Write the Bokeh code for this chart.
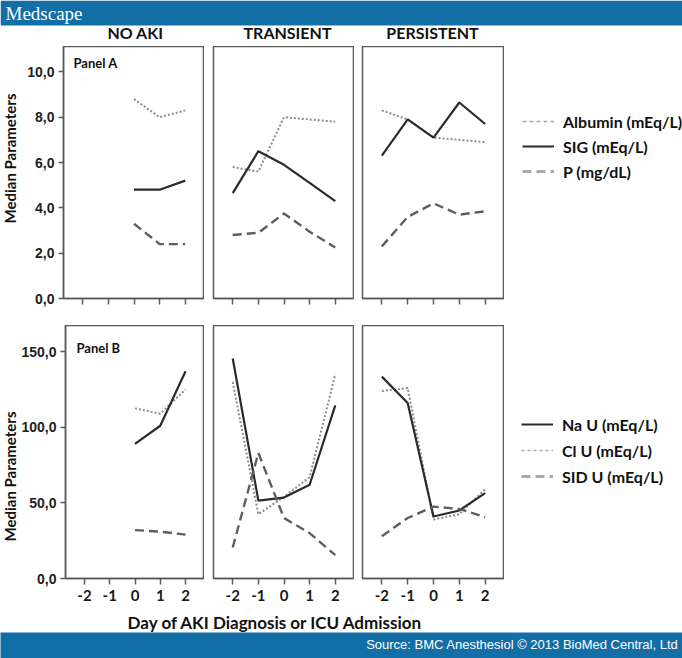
import math

import numpy as np
from bokeh.embed import file_html
from bokeh.layouts import column, row
from bokeh.models import BoxAnnotation, FixedTicker, Label, Legend, LegendItem, Range1d
from bokeh.plotting import figure
from bokeh.resources import INLINE

# ---------------- data ----------------
groups = ["NO AKI", "TRANSIENT", "PERSISTENT"]
days_all = [-2, -1, 0, 1, 2]
days_no_aki = [0, 1, 2]
x_ticks = [-2, -1, 0, 1, 2]
x_tick_labels = ["-2", "-1", "0", "1", "2"]

# Panel A: serum parameters
albumin_no_aki = [8.8, 8.0, 8.3]
albumin_transient = [5.8, 5.6, 8.0, 7.9, 7.8]
albumin_persistent = [8.3, 7.9, 7.1, 7.0, 6.9]
sig_no_aki = [4.8, 4.8, 5.2]
sig_transient = [4.65, 6.5, 5.9, 5.1, 4.3]
sig_persistent = [6.3, 7.9, 7.1, 8.65, 7.7]
p_no_aki = [3.3, 2.4, 2.4]
p_transient = [2.8, 2.9, 3.75, 2.95, 2.25]
p_persistent = [2.3, 3.6, 4.2, 3.7, 3.85]
y_ticks_a = [0, 2, 4, 6, 8, 10]
y_tick_labels_a = ["0,0", "2,0", "4,0", "6,0", "8,0", "10,0"]
legend_a = ["Albumin (mEq/L)", "SIG (mEq/L)", "P (mg/dL)"]

# Panel B: urinary electrolytes
na_u_no_aki = [89, 101, 137]
na_u_transient = [145.5, 51.5, 53.5, 62, 114.5]
na_u_persistent = [133.5, 116, 41, 45, 56.5]
cl_u_no_aki = [112.5, 109, 125]
cl_u_transient = [130, 42.5, 54, 67, 135]
cl_u_persistent = [124, 126, 39, 42.5, 59]
sid_u_no_aki = [32, 31, 29]
sid_u_transient = [20.5, 83, 40, 30, 15.5]
sid_u_persistent = [28, 40, 47.5, 46, 40.5]
y_ticks_b = [0, 50, 100, 150]
y_tick_labels_b = ["0,0", "50,0", "100,0", "150,0"]
legend_b = ["Na U (mEq/L)", "Cl U (mEq/L)", "SID U (mEq/L)"]

# ---------------- styling ----------------
BLUE = "#146ea6"
FRAME = "#5a5a5a"
FONT = "Lato"
W = 682
STRIP_W = 18
FIRST_LEFT = 63 - STRIP_W

SOLID = dict(line_color="#2b2b2b", line_width=2.2)
DOTTED = dict(line_color="#8c8c8c", line_width=2.0, line_dash="2 2")
DASHED = dict(line_color="#5e5e5e", line_width=2.4, line_dash="9 5")


def blank(width, height, fill="white"):
    p = figure(width=width, height=height, x_range=Range1d(0, width), y_range=Range1d(0, height),
               output_backend="svg", toolbar_location=None,
               x_axis_location=None, y_axis_location=None,
               min_border=0, min_border_left=0, min_border_right=0,
               min_border_top=0, min_border_bottom=0)
    p.grid.visible = False
    p.outline_line_color = None
    p.background_fill_color = fill
    p.border_fill_color = fill
    return p


def panel(width, height, left, bottom, y_max, y_ticks, y_labels, show_y, show_xlabels):
    p = figure(width=width, height=height,
               x_range=Range1d(-2.75, 2.75), y_range=Range1d(0, y_max),
               output_backend="svg", toolbar_location=None,
               x_axis_location="below", y_axis_location="left" if show_y else None,
               min_border_left=left, min_border_right=0,
               min_border_top=0, min_border_bottom=bottom)
    p.grid.visible = False
    p.outline_line_color = FRAME
    p.outline_line_width = 1.5
    p.border_fill_color = "white"

    xa = p.xaxis[0]
    xa.ticker = FixedTicker(ticks=x_ticks)
    xa.major_label_overrides = {t: s for t, s in zip(x_ticks, x_tick_labels)}
    xa.minor_tick_line_color = None
    xa.major_tick_in = 0
    xa.major_tick_out = 6
    xa.axis_line_color = FRAME
    xa.axis_line_width = 1.5
    xa.major_tick_line_color = FRAME
    xa.major_tick_line_width = 1.5
    xa.major_label_text_font = FONT
    xa.major_label_text_font_style = "bold"
    xa.major_label_text_font_size = "15px"
    xa.major_label_standoff = 5
    xa.major_label_text_color = "#1a1a1a" if show_xlabels else None

    if show_y:
        ya = p.yaxis[0]
        ya.ticker = FixedTicker(ticks=y_ticks)
        ya.major_label_overrides = {t: s for t, s in zip(y_ticks, y_labels)}
        ya.minor_tick_line_color = None
        ya.major_tick_in = 0
        ya.major_tick_out = 5
        ya.axis_line_color = FRAME
        ya.axis_line_width = 1.5
        ya.major_tick_line_color = FRAME
        ya.major_tick_line_width = 1.5
        ya.major_label_text_font = "Liberation Sans"
        ya.major_label_text_font_style = "bold"
        ya.major_label_text_font_size = "14px"
        ya.major_label_text_color = "#222222"
        ya.major_label_standoff = 4
    return p


def draw(p, xs, dotted, solid, dashed):
    p.line(xs, dotted, **DOTTED)
    p.line(xs, solid, **SOLID)
    p.line(xs, dashed, **DASHED)


def text_label(**kw):
    base = dict(text_font=FONT, text_font_style="bold", text_color="#111111",
                text_baseline="middle")
    base.update(kw)
    return Label(**base)


def legend_fig(width, height, labels, styles, loc, spacing):
    p = blank(width, height)
    items = []
    for lab, st in zip(labels, styles):
        # legend-only renderer: nothing of it is drawn in the frame
        r = p.line(np.array([0.0, 1.0]), np.array([np.nan, np.nan]), **st)
        items.append(LegendItem(label=lab, renderers=[r]))
    lg = Legend(items=items, location=loc, orientation="vertical",
                glyph_width=32, glyph_height=20, label_height=20,
                label_standoff=9, spacing=spacing, padding=0, margin=0,
                border_line_color=None, background_fill_alpha=0,
                label_text_font=FONT, label_text_font_style="bold",
                label_text_font_size="16px", label_text_color="#111111")
    p.add_layout(lg, "center")
    return p


# ---------------- header with column titles ----------------
header = blank(W, 46)
header.add_layout(BoxAnnotation(bottom=21, top=46, fill_color=BLUE, fill_alpha=1, line_color=None))
header.add_layout(Label(x=5, y=33.5, text="Medscape", text_font="Liberation Serif",
                        text_font_size="19px", text_color="white",
                        text_baseline="middle", text_align="left"))
for name, cx in zip(groups, [135, 287, 432]):
    header.add_layout(text_label(x=cx, y=14, text=name, text_align="center",
                                 text_font_size="16px"))

# ---------------- panel A ----------------
ROW_A_H = 279
a1 = panel(204 - STRIP_W, ROW_A_H, FIRST_LEFT, 27, 11.12, y_ticks_a, y_tick_labels_a, True, False)
a2 = panel(150, ROW_A_H, 9, 27, 11.12, y_ticks_a, y_tick_labels_a, False, False)
a3 = panel(150, ROW_A_H, 8, 27, 11.12, y_ticks_a, y_tick_labels_a, False, False)
draw(a1, days_no_aki, albumin_no_aki, sig_no_aki, p_no_aki)
draw(a2, days_all, albumin_transient, sig_transient, p_transient)
draw(a3, days_all, albumin_persistent, sig_persistent, p_persistent)
a1.add_layout(text_label(x=10, y=236, x_units="screen", y_units="screen",
                         text="Panel A", text_font_size="13px", text_align="left"))

leg_a = legend_fig(178, ROW_A_H, legend_a, [
    dict(line_color="#a8a8a8", line_width=1.6, line_dash="4 3"),
    dict(line_color="#2b2b2b", line_width=2.0),
    dict(line_color="#aaaaaa", line_width=3.0, line_dash="9 5"),
], (18, 117), 5)

# ---------------- panel B ----------------
ROW_B_H = 285
b1 = panel(204 - STRIP_W, ROW_B_H, FIRST_LEFT, 32, 167.3, y_ticks_b, y_tick_labels_b, True, True)
b2 = panel(150, ROW_B_H, 9, 32, 167.3, y_ticks_b, y_tick_labels_b, False, True)
b3 = panel(150, ROW_B_H, 8, 32, 167.3, y_ticks_b, y_tick_labels_b, False, True)
draw(b1, days_no_aki, cl_u_no_aki, na_u_no_aki, sid_u_no_aki)
draw(b2, days_all, cl_u_transient, na_u_transient, sid_u_transient)
draw(b3, days_all, cl_u_persistent, na_u_persistent, sid_u_persistent)
b1.add_layout(text_label(x=11, y=231, x_units="screen", y_units="screen",
                         text="Panel B", text_font_size="13px", text_align="left"))

leg_b = legend_fig(178, ROW_B_H, legend_b, [
    dict(line_color="#2b2b2b", line_width=2.0),
    dict(line_color="#a8a8a8", line_width=1.6, line_dash="3 3"),
    dict(line_color="#aaaaaa", line_width=3.0, line_dash="9 5"),
], (17, 92), 6)

# ---------------- y-axis titles strip ----------------
strip = blank(STRIP_W, ROW_A_H + ROW_B_H)
for cy in [ROW_A_H + ROW_B_H - 112, ROW_B_H - 151]:
    strip.add_layout(text_label(x=STRIP_W / 2, y=cy, text="Median Parameters",
                                text_font_size="15px", text_align="center",
                                angle=math.pi / 2))

# ---------------- axis title and footer ----------------
xtitle = blank(W, 22)
xtitle.add_layout(text_label(x=275, y=10, text="Day of AKI Diagnosis or ICU Admission",
                             text_align="center", text_font_size="17px"))

footer = blank(W, 26, BLUE)
footer.add_layout(Label(x=678, y=14, text="Source: BMC Anesthesiol \u00a9 2013 BioMed Central, Ltd",
                        text_font="Liberation Sans", text_font_size="13px",
                        text_color="white", text_align="right", text_baseline="middle"))

panels = column(row(a1, a2, a3, leg_a), row(b1, b2, b3, leg_b))
page = column(header, row(strip, panels), xtitle, footer)

open("out.html", "w").write(file_html(page, INLINE))
